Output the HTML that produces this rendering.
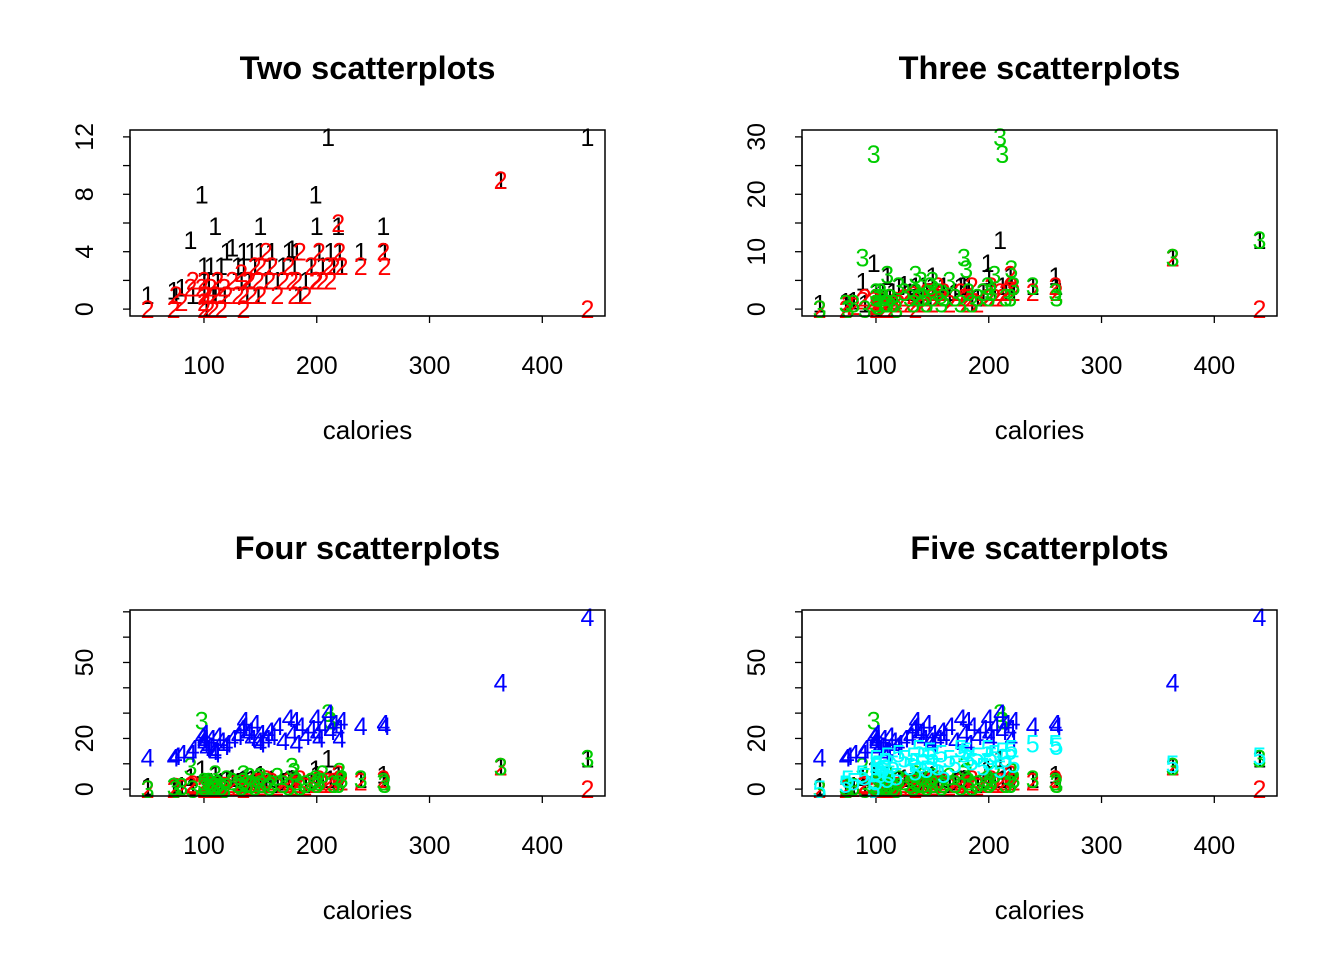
<!DOCTYPE html>
<html><head><meta charset="utf-8"><style>
body{margin:0;background:#fff}
svg{display:block;font-family:"Liberation Sans",Arial,sans-serif}
</style></head><body>
<svg id="c" width="1344" height="960"></svg>
<script>
const calories=[50,73,75,80,88,90,98,100,100,100,100,102,104,106,108,110,110,112,115,118,120,125,130,133,135,135,138,140,142,145,148,150,150,155,158,160,165,170,175,178,180,182,185,190,195,199,200,202,205,210,212,215,219,220,222,239,259,260,363,440];
const protein=[1,1.3,1,1.5,4.8,1,8,3,2,1,2,0,2,3,1,5.8,1,2,3,1,4,4.3,3,2,4,3,1,2,4,3,1,5.8,4,2,3,4,2,3,4,4.2,3,4,1,2,3,8,5.8,4,3,12,4,3,5.8,4,3,4,5.8,4,9,12];
const fat=[0,0,1,0.5,1.5,2,1.5,1,0,0.5,2,1,0,1.5,0,1,1,2,0,1.5,1,2,1,2.5,0,1,2,2,1,3,2,3,1,4,2,3,1,2,3,2,1,2,4,1,3,2,2,4,2,3,2,3,6,4,3,3,4,3,9,0];
const fibre=[0,1,0,1,9,0,27,3,2,1,1,0.5,3,2,1,6,1,2,1,0,4,3,2,1,3,6,2,5,2,1,4,5,2,3,1,2,5,2,1,9,7,3,1,2,3,4,2,3,6,30,27,2,2,7,4,4,3,2,9,12];
const carbo=[12.5,12.5,13,14,14,16,21,20,22,18,19,16,17,20,15,15,14,21,19,17,18,20,21,24,27,25,22,23,20,26,19,22,18,20,23,21,25,19,28,22,27,18,25,21,24,28,22,20,25,30,23,26,24,20,27,25,26,25,42,68];
const sugars=[0,2,4,3,6,5,0,7,9,12,3,10,6,8,11,4,13,6,10,5,14,12,9,13,7,11,16,10,13,8,15,13,10,9,14,6,12,10,16,14,15,12,11,13,9,16,11,13,14,8,15,12,15,16,10,18,18,17,10,13];
const seriesList=[protein,fat,fibre,carbo,sugars];
const colors=["#000000","#ff0000","#00cd00","#0000ff","#00ffff"];
const titles=["Two scatterplots","Three scatterplots","Four scatterplots","Five scatterplots"];
const xTicks=[100,200,300,400];
const yTickSets=[[0,2,4,6,8,10,12],[0,5,10,15,20,25,30],[0,10,20,30,40,50,60,70],[0,10,20,30,40,50,60,70]];
const yLabelSets=[[0,4,8,12],[0,10,20,30],[0,20,50],[0,20,50]];
const svg=document.getElementById('c');
const NS="http://www.w3.org/2000/svg";
function mk(t,a,p){const e=document.createElementNS(NS,t);for(const k in a)e.setAttribute(k,a[k]);(p||svg).appendChild(e);return e;}
const boxes=[[130,130],[802,130],[130,610],[802,610]];
const W=475,H=186;
for(let p=0;p<4;p++){
  const [bx,by]=boxes[p];
  const ns=p+2;
  const g=mk('g',{});
  
  
  const xmin=Math.min(...calories),xmax=Math.max(...calories);
  let ymin=Infinity,ymax=-Infinity;
  for(let s=0;s<ns;s++){ymin=Math.min(ymin,...seriesList[s]);ymax=Math.max(ymax,...seriesList[s]);}
  const xe=(xmax-xmin)*0.04,ye=(ymax-ymin)*0.04;
  const X=v=>bx+(v-(xmin-xe))/((xmax+xe)-(xmin-xe))*W;
  const Y=v=>by+H-(v-(ymin-ye))/((ymax+ye)-(ymin-ye))*H;
  const t=mk('text',{x:bx+W/2,y:by-51,'text-anchor':'middle','font-size':'32.5','font-weight':'bold'},g);
  t.textContent=titles[p];
  
  
  const xl=mk('text',{x:bx+W/2,y:by+309,'text-anchor':'middle','font-size':'26'},g);
  xl.textContent='calories';
  
  
  mk('line',{x1:X(xTicks[0]),x2:X(xTicks[xTicks.length-1]),y1:by+H,y2:by+H,stroke:'#000','stroke-width':1.3},g);
  xTicks.forEach(v=>{
    mk('line',{x1:X(v),x2:X(v),y1:by+H,y2:by+H+7,stroke:'#000','stroke-width':1.3},g);
    const l=mk('text',{x:X(v),y:by+H+58,'text-anchor':'middle','font-size':'25'},g);
    l.textContent=v;
    
    
  });
  const yt=yTickSets[p];
  mk('line',{x1:bx,x2:bx,y1:Y(yt[0]),y2:Y(yt[yt.length-1]),stroke:'#000','stroke-width':1.3},g);
  yt.forEach(v=>{mk('line',{x1:bx-7,x2:bx,y1:Y(v),y2:Y(v),stroke:'#000','stroke-width':1.3},g);});
  yLabelSets[p].forEach(v=>{
    const l=mk('text',{x:0,y:0,'text-anchor':'middle','font-size':'25',transform:`translate(${bx-37},${Y(v)}) rotate(-90)`},g);
    l.textContent=v;
    
    
  });
  for(let s=0;s<ns;s++){
    const arr=seriesList[s];
    for(let i=0;i<calories.length;i++){
      const m=mk('text',{x:X(calories[i]),y:Y(arr[i])+9,'text-anchor':'middle','font-size':'25',fill:colors[s]},g);
      m.textContent=String(s+1);
      
      
    }
  }
  const r=mk('rect',{x:bx,y:by,width:W,height:H,fill:'none',stroke:'#000','stroke-width':1.5},g);
  
  
}
</script>
</body></html>
